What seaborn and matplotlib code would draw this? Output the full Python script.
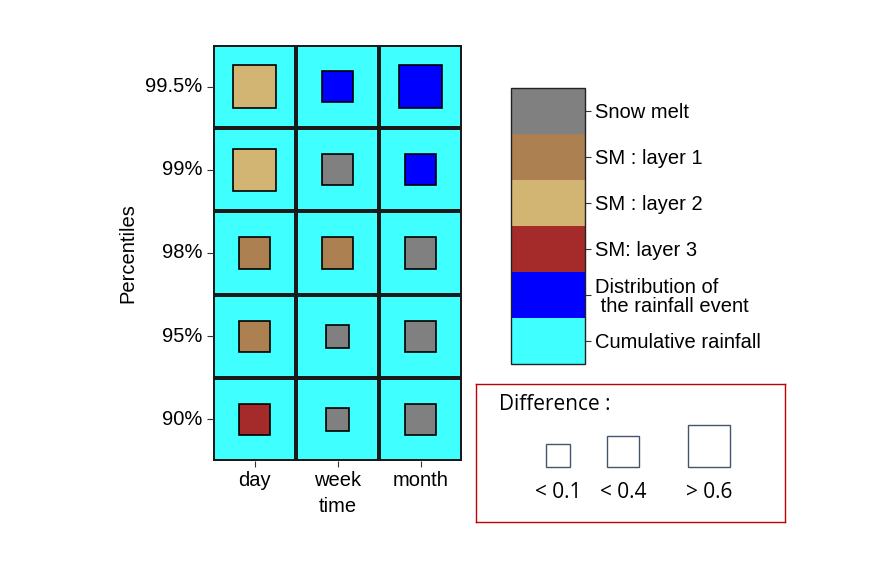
import numpy as np
import pandas as pd
import matplotlib
matplotlib.use("Agg")
import matplotlib.pyplot as plt
from matplotlib.colors import ListedColormap, BoundaryNorm
from matplotlib.cm import ScalarMappable
from matplotlib.patches import Rectangle
import seaborn as sns

# ---------------- data ----------------
percentiles = ["99.5%", "99%", "98%", "95%", "90%"]
times = ["day", "week", "month"]

# driver categories (colorbar order, bottom -> top)
categories = ["Cumulative rainfall", "Distribution of\n the rainfall event",
              "SM: layer 3", "SM : layer 2", "SM : layer 1", "Snow melt"]
cat_colors = ["#40FFFF", "#0000FF", "#A52A2A", "#D2B473", "#AD8052", "#808080"]

# dominant driver per cell (index into categories), rows = percentiles
driver = [
    [3, 1, 1],   # 99.5%
    [3, 5, 1],   # 99%
    [4, 4, 5],   # 98%
    [4, 5, 5],   # 95%
    [2, 5, 5],   # 90%
]
# background driver (all cells)
background = [[0, 0, 0]] * 5

# difference class per cell: 0 -> "< 0.1", 1 -> "< 0.4", 2 -> "> 0.6"
diff_class = [
    [2, 1, 2],
    [2, 1, 1],
    [1, 1, 1],
    [1, 0, 1],
    [1, 0, 1],
]
diff_labels = ["< 0.1", "< 0.4", "> 0.6"]
diff_size = [0.28, 0.375, 0.51]       # fraction of a cell side

# ---------------- figure ----------------
plt.rcParams["font.family"] = ["Liberation Sans", "DejaVu Sans"]
FS = 14.5
W, H = 894, 578
fig = plt.figure(figsize=(W / 100, H / 100), dpi=100)

cmap = ListedColormap(cat_colors)
norm = BoundaryNorm(np.arange(-0.5, len(categories) + 0.5, 1), cmap.N)

ax = fig.add_axes([213 / W, 1 - 461 / H, (462 - 213) / W, (461 - 45) / H])
bg = pd.DataFrame(background, index=percentiles, columns=times)
sns.heatmap(bg, ax=ax, cmap=cmap, norm=norm, cbar=False,
            linewidths=1.6, linecolor="#1a1a1a")

for i, row in enumerate(driver):
    for j, c in enumerate(row):
        s = diff_size[diff_class[i][j]]
        ax.add_patch(Rectangle((j + 0.5 - s / 2, i + 0.5 - s / 2), s, s,
                               facecolor=cat_colors[c], edgecolor="black",
                               linewidth=1.2, zorder=3))

ax.tick_params(axis="both", labelsize=FS, length=4, width=0.8, color="#333333")
ax.set_yticklabels(percentiles, rotation=0)
ax.set_xticklabels(times, rotation=0)
ax.set_xlabel("time", fontsize=FS, labelpad=5)
ax.set_ylabel("Percentiles", fontsize=FS, labelpad=5.5)

# ---------------- colorbar ----------------
cax = fig.add_axes([511 / W, 1 - 364 / H, 74 / W, (364 - 88) / H])
sm = ScalarMappable(norm=norm, cmap=cmap)
cb = fig.colorbar(sm, cax=cax, ticks=np.arange(len(categories)))
cb.minorticks_off()
cb.ax.set_yticklabels(categories, fontsize=FS, linespacing=1.0)
cb.ax.tick_params(length=4, width=0.8, pad=3, color="#333333")
cb.outline.set_edgecolor("#222222")
cb.outline.set_linewidth(1.0)

# ---------------- difference legend box ----------------
lax = fig.add_axes([476 / W, 1 - 522 / H, (785 - 476) / W, (522 - 384) / H])
lax.set_xlim(0, 309)
lax.set_ylim(138, 0)
lax.set_xticks([])
lax.set_yticks([])
for sp in lax.spines.values():
    sp.set_edgecolor("#C00000")
    sp.set_linewidth(1.0)
box_font = ["Open Sans", "DejaVu Sans"]
lax.text(23, 20, "Difference :", fontsize=15, family=box_font,
         va="center", ha="left")
cell_px = 83.0
centers_x = [82, 147, 233]
bottom_y = 83
for k, lab in enumerate(diff_labels):
    side = diff_size[k] * cell_px
    lax.add_patch(Rectangle((centers_x[k] - side / 2, bottom_y - side), side, side,
                            facecolor="none", edgecolor="#44546A", linewidth=1.0))
    lax.text(centers_x[k], 108, lab, fontsize=15, family=box_font,
             ha="center", va="center")

fig.savefig("out.png", dpi=100)
